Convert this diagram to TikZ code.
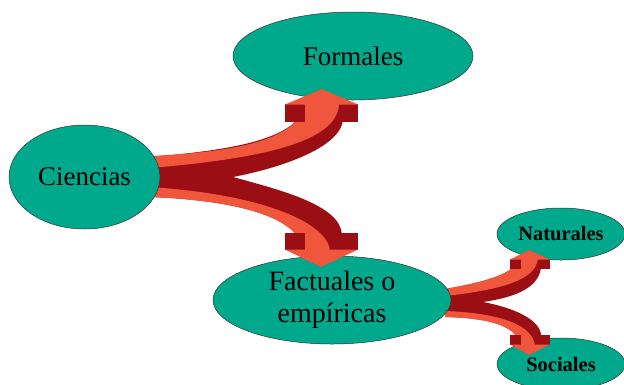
\documentclass[tikz,border=0pt]{standalone}
\usepackage{fontspec}
\setmainfont{Liberation Serif}
\usetikzlibrary{shapes.geometric}
\definecolor{cteal}{RGB}{0,168,140}
\definecolor{arrowlight}{RGB}{240,86,60}
\definecolor{arrowdark}{RGB}{155,15,20}
\begin{document}
\begin{tikzpicture}[x=1pt,y=-1pt,
  topic/.style={ellipse, fill=cteal, draw=black!80, line width=0.5pt, inner sep=0pt, align=center},
  bigtext/.style={font=\fontsize{27}{32}\selectfont},
  smalltext/.style={font=\bfseries\fontsize{20.5}{22}\selectfont},
  face/.style={fill=arrowlight},
  depth/.style={fill=arrowdark}]
\useasboundingbox (0,0) rectangle (624,384);

% target nodes
\node[topic, bigtext, minimum width=240, minimum height=88] (form) at (353,56) {Formales};
\node[topic, smalltext, minimum width=128, minimum height=52] (nat) at (561,234) {Naturales};
\node[topic, smalltext, minimum width=128, minimum height=52] (soc) at (561,364) {Sociales};

% small forked arrow: Factuales -> Naturales
\fill[depth] (445,289) .. controls (485,282) and (515,274) .. (520,258) -- (541,258) -- (541,268)
  .. controls (538,290) and (510,298) .. (483,302) -- (445,305) -- cycle;
\fill[face] (445,289) .. controls (485,282) and (515,274) .. (520,258) -- (538,258)
  .. controls (537,280) and (500,290) .. (445,296) -- cycle;
\fill[depth] (510,259) rectangle (521,269);
\fill[depth] (539,259) rectangle (550,269);
\fill[face] (510,259.5) -- (550,259.5) -- (529,250) -- cycle;

% small forked arrow: Factuales -> Sociales
\fill[depth] (445,300) -- (483,302) .. controls (515,308) and (540,320) .. (541,335) -- (541,346)
  -- (520,346) .. controls (518,326) and (490,318) .. (445,317) -- cycle;
\fill[face] (445,317) .. controls (490,318) and (518,326) .. (520,346) -- (535,346)
  .. controls (533,325) and (500,313) .. (445,311) -- cycle;
\fill[depth] (510,335) rectangle (521,345);
\fill[depth] (539,335) rectangle (550,345);
\fill[face] (510,344.5) -- (550,344.5) -- (529,355) -- cycle;

\node[topic, font=\fontsize{28}{32}\selectfont, minimum width=238, minimum height=88] (fact) at (332,300) {Factuales o\\empíricas};

% big forked arrow: Ciencias -> Formales
\fill[depth] (150,157) .. controls (230,150) and (300,140) .. (305,103) -- (343,103) -- (343,120)
  .. controls (340,148) and (280,168) .. (233,177) -- (150,180) -- cycle;
\fill[face] (150,156) .. controls (230,152) and (298,142) .. (305,103) -- (339,103)
  .. controls (339,140) and (270,158) .. (150,168) -- cycle;
\fill[depth] (285,104) rectangle (305,122);
\fill[depth] (340,104) rectangle (358,122);
\fill[face] (285,104.5) -- (358,104.5) -- (322,89) -- cycle;

% big forked arrow: Ciencias -> Factuales
\fill[depth] (150,172) -- (233,177) .. controls (280,190) and (341,205) .. (342,235) -- (342,251)
  -- (303,251) .. controls (300,215) and (230,200) .. (150,197) -- cycle;
\fill[face] (150,197) .. controls (230,200) and (300,215) .. (303,251) -- (330,251)
  .. controls (328,225) and (270,195) .. (150,187) -- cycle;
\fill[depth] (285,233) rectangle (305,250);
\fill[depth] (340,233) rectangle (358,250);
\fill[face] (285,249.5) -- (358,249.5) -- (321,267) -- cycle;

% source node
\node[topic, bigtext, minimum width=151, minimum height=104] (cien) at (84.5,177) {Ciencias};
\end{tikzpicture}
\end{document}
